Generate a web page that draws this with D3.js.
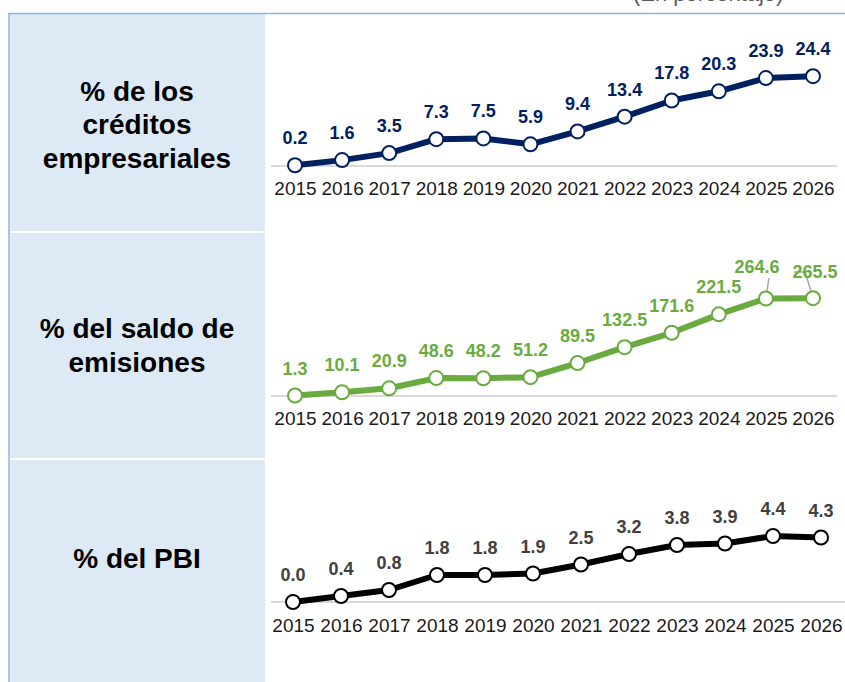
<!DOCTYPE html>
<html>
<head>
<meta charset="utf-8">
<script src="https://cdn.jsdelivr.net/npm/d3@7"></script>
<style>
  body { margin: 0; background: #fff; }
  svg { display: block; font-family: Arial, "Liberation Sans", sans-serif; }
</style>
</head>
<body>
<div id="viz"></div>
<script>
const years = ["2015","2016","2017","2018","2019","2020","2021","2022","2023","2024","2025","2026"];
const creditos = [0.2, 1.6, 3.5, 7.3, 7.5, 5.9, 9.4, 13.4, 17.8, 20.3, 23.9, 24.4];
const emisiones = [1.3, 10.1, 20.9, 48.6, 48.2, 51.2, 89.5, 132.5, 171.6, 221.5, 264.6, 265.5];
const pbi = [0.0, 0.4, 0.8, 1.8, 1.8, 1.9, 2.5, 3.2, 3.8, 3.9, 4.4, 4.3];
const panelTitles = [
  ["% de los", "créditos", "empresariales"],
  ["% del saldo de", "emisiones"],
  ["% del PBI"]
];
const subtitle = "(En porcentaje)";

const W = 845, H = 682;
const svg = d3.select("#viz").append("svg").attr("width", W).attr("height", H);

// subtitle (clipped at top, as in the source)
svg.append("text")
  .attr("x", 633).attr("y", 0.5)
  .style("font-size", "22px").style("fill", "#595959")
  .text(subtitle);

// left band panels
const bands = [[14, 231], [233, 458], [460, 682]];
svg.selectAll("rect.band")
  .data(bands)
  .join("rect")
    .attr("class", "band")
    .attr("x", 10).attr("y", d => d[0])
    .attr("width", 255).attr("height", d => d[1] - d[0])
    .style("fill", "#dde9f5");

// border
svg.append("line").attr("x1", 8).attr("x2", W).attr("y1", 13.5).attr("y2", 13.5)
  .style("stroke", "#8db3e2").style("stroke-width", 1.5);
svg.append("line").attr("x1", 9).attr("x2", 9).attr("y1", 13).attr("y2", H)
  .style("stroke", "#8db3e2").style("stroke-width", 1.5);

// panel titles
const titleCenters = [124, 345, 558];
panelTitles.forEach((lines, i) => {
  const lh = 33.5;
  const y0 = titleCenters[i] - (lines.length - 1) * lh / 2;
  svg.append("text")
    .attr("text-anchor", "middle")
    .style("font-size", "28px").style("font-weight", "bold").style("fill", "#000")
    .selectAll("tspan")
    .data(lines)
    .join("tspan")
      .attr("x", 137)
      .attr("y", (d, j) => y0 + j * lh + 10)
      .text(d => d);
});

const panels = [
  { values: creditos, color: "#002060", labelColor: "#002060", xr: [295, 813], domain: [0, 25], yr: [166, 74], grid: [271, 837], yearY: 195 },
  { values: emisiones, color: "#6aab3f", labelColor: "#6aab3f", xr: [295, 813], domain: [0, 270], yr: [396, 296.5], grid: [271, 837], yearY: 425,
    adjust: { 10: { dx: -9, dy: -4, lead: [[769, 278], [767, 291]] }, 11: { dx: 2, dy: 1, lead: [[794, 272], [805, 272], [811, 291]] } } },
  { values: pbi, color: "#000", labelColor: "#404040", xr: [293, 821], domain: [0, 4.5], yr: [602, 534.5], grid: [271, 845], yearY: 632 }
];

panels.forEach(p => {
  const x = d3.scalePoint().domain(years).range(p.xr);
  const y = d3.scaleLinear().domain(p.domain).range(p.yr);
  const g = svg.append("g");

  g.append("line")
    .attr("x1", p.grid[0]).attr("x2", p.grid[1])
    .attr("y1", y(0)).attr("y2", y(0))
    .style("stroke", "#d9d9d9").style("stroke-width", 2);

  // year axis
  const axis = g.append("g")
    .attr("transform", `translate(0,${p.yearY})`)
    .call(d3.axisBottom(x).tickSize(0).tickPadding(0));
  axis.select(".domain").remove();
  axis.selectAll("text")
    .attr("dy", 0)
    .style("font-size", "19px").style("fill", "#1a1a1a")
    .style("font-family", "Arial, 'Liberation Sans', sans-serif");

  const pts = years.map((yr, i) => ({ yr, v: p.values[i], i }));

  g.append("path")
    .datum(pts)
    .attr("d", d3.line().x(d => x(d.yr)).y(d => y(d.v)))
    .style("fill", "none").style("stroke", p.color)
    .style("stroke-width", 6).style("stroke-linejoin", "round");

  // leader lines
  if (p.adjust) {
    Object.values(p.adjust).forEach(a => {
      g.append("path")
        .attr("d", d3.line()(a.lead))
        .style("fill", "none").style("stroke", "#a6a6a6").style("stroke-width", 1.5);
    });
  }

  g.selectAll("circle")
    .data(pts)
    .join("circle")
      .attr("cx", d => x(d.yr)).attr("cy", d => y(d.v))
      .attr("r", 7)
      .style("fill", "#fff").style("stroke", p.color).style("stroke-width", 2);

  g.selectAll("text.lbl")
    .data(pts)
    .join("text")
      .attr("class", "lbl")
      .attr("x", d => x(d.yr) + (p.adjust && p.adjust[d.i] ? p.adjust[d.i].dx : 0))
      .attr("y", d => y(d.v) - 21 + (p.adjust && p.adjust[d.i] ? p.adjust[d.i].dy : 0))
      .attr("text-anchor", "middle")
      .style("font-size", "18px").style("font-weight", "bold")
      .style("fill", p.labelColor)
      .text(d => d.v.toFixed(1));
});
</script>
</body>
</html>
